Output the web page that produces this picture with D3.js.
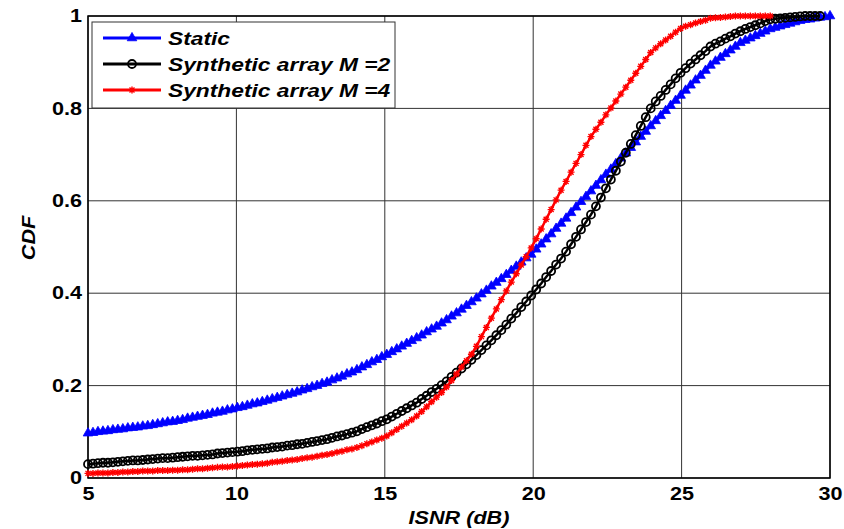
<!DOCTYPE html>
<html>
<head>
<meta charset="utf-8">
<script src="https://cdn.jsdelivr.net/npm/d3@7"></script>
<style>
  body { margin: 0; background: #fff; }
  text { font-family: "Liberation Sans", Arial, sans-serif; font-weight: bold; }
</style>
</head>
<body>
<svg width="844" height="529"></svg>
<script>
// ISNR sample grid (dB): 150 evenly spaced samples from 5 to 30
var isnr = d3.range(0, 150).map(function(i) { return 5 + i * 25 / 149; });

var xTicks = [5, 10, 15, 20, 25, 30];
var yTicks = [0, 0.2, 0.4, 0.6, 0.8, 1];
var seriesNames = ["Static", "Synthetic array M =2", "Synthetic array M =4"];

// CDF values, one per isnr sample
var staticCdf = [
  .097, .098, .100, .101, .102, .104, .105, .106, .108, .109,
  .110, .112, .113, .115, .117, .119, .121, .122, .124, .126,
  .129, .131, .133, .135, .137, .140, .142, .144, .147, .149,
  .152, .154, .157, .160, .162, .165, .168, .171, .174, .177,
  .180, .183, .186, .190, .193, .197, .200, .204, .207, .212,
  .216, .220, .225, .229, .234, .240, .245, .251, .256, .262,
  .267, .273, .279, .285, .291, .297, .303, .309, .316, .322,
  .328, .335, .342, .350, .357, .365, .373, .381, .389, .398,
  .406, .415, .423, .431, .440, .449, .458, .467, .476, .484,
  .495, .506, .517, .528, .540, .551, .562, .574, .586, .598,
  .609, .621, .633, .645, .657, .668, .680, .692, .703, .715,
  .727, .739, .750, .762, .773, .784, .795, .806, .817, .828,
  .839, .850, .861, .871, .882, .893, .902, .910, .918, .926,
  .934, .942, .947, .952, .957, .962, .967, .972, .975, .978,
  .981, .984, .987, .990, .992, .993, .995, .997, .998, 1.000
];

var synM2Cdf = [
  .030, .031, .032, .033, .033, .034, .035, .036, .037, .038,
  .038, .039, .040, .041, .042, .043, .043, .044, .045, .046,
  .047, .048, .048, .049, .050, .051, .053, .054, .055, .056,
  .057, .058, .060, .061, .062, .063, .064, .066, .067, .068,
  .070, .071, .073, .074, .076, .078, .080, .082, .084, .087,
  .090, .092, .095, .098, .101, .106, .110, .114, .118, .123,
  .127, .133, .139, .145, .151, .157, .163, .171, .178, .186,
  .193, .201, .209, .219, .228, .237, .246, .256, .266, .277,
  .287, .298, .309, .320, .332, .345, .357, .370, .382, .395,
  .408, .421, .435, .448, .462, .475, .490, .506, .522, .538,
  .554, .570, .588, .607, .627, .646, .665, .685, .704, .723,
  .742, .762, .781, .800, .815, .827, .840, .852, .865, .877,
  .887, .897, .906, .915, .924, .934, .940, .945, .951, .956,
  .962, .967, .972, .976, .980, .984, .989, .993, .994, .995,
  .996, .997, .998, .999, 1.000, 1.000, 1.000, 1.000
];

var synM4Cdf = [
  .010, .010, .011, .011, .011, .012, .012, .013, .013, .014,
  .014, .015, .015, .015, .016, .016, .016, .017, .017, .018,
  .018, .019, .020, .020, .021, .022, .023, .024, .024, .025,
  .026, .027, .028, .029, .030, .031, .032, .034, .035, .036,
  .038, .039, .040, .042, .044, .045, .047, .049, .051, .053,
  .056, .058, .061, .063, .066, .070, .074, .078, .082, .086,
  .091, .098, .105, .112, .119, .126, .134, .144, .154, .165,
  .175, .185, .197, .211, .225, .240, .254, .268, .285, .306,
  .326, .346, .366, .386, .405, .424, .442, .461, .479, .498,
  .518, .539, .560, .581, .602, .623, .642, .662, .681, .700,
  .720, .739, .755, .770, .786, .801, .816, .831, .846, .861,
  .876, .891, .906, .921, .931, .940, .948, .956, .965, .973,
  .978, .981, .985, .988, .991, .995, .996, .997, .998, .999,
  1.000, 1.000, 1.000, 1.000, 1.000, 1.000, 1.000, 1.000
];

var svg = d3.select("svg");
var margin = { left: 88, right: 14, top: 16, bottom: 51 };
var width = 844 - margin.left - margin.right,
    height = 529 - margin.top - margin.bottom;

var x = d3.scaleLinear().domain([5, 30]).range([0, width]);
var y = d3.scaleLinear().domain([0, 1]).range([height, 0]);

var g = svg.append("g").attr("transform", "translate(" + margin.left + "," + margin.top + ")");

// grid
g.selectAll(".vgrid").data(xTicks).enter().append("line")
  .attr("x1", function(d) { return x(d); }).attr("x2", function(d) { return x(d); })
  .attr("y1", 0).attr("y2", height)
  .attr("stroke", "#333").attr("stroke-width", 1);
g.selectAll(".hgrid").data(yTicks).enter().append("line")
  .attr("y1", function(d) { return y(d); }).attr("y2", function(d) { return y(d); })
  .attr("x1", 0).attr("x2", width)
  .attr("stroke", "#333").attr("stroke-width", 1);

// axes (text is stretched a bit wider, like the original export)
var xAxis = g.append("g").attr("transform", "translate(0," + height + ")")
  .call(d3.axisBottom(x).tickValues(xTicks).tickSize(0).tickPadding(9).tickFormat(d3.format("d")));
var yAxis = g.append("g")
  .call(d3.axisLeft(y).tickValues(yTicks).tickSize(0).tickPadding(5)
    .tickFormat(function(d) { return d === 0 || d === 1 ? d : d.toFixed(1); }));
[xAxis, yAxis].forEach(function(a) {
  a.select(".domain").remove();
  a.selectAll("text").attr("font-size", 18).attr("fill", "#000")
    .attr("transform", "scale(1.2,1)")
    .style("font-family", "'Liberation Sans', Arial, sans-serif").style("font-weight", "bold");
});

g.append("rect").attr("width", width).attr("height", height)
  .attr("fill", "none").attr("stroke", "#000").attr("stroke-width", 1.5);

// curves
var line = d3.line()
  .x(function(d) { return x(d[0]); })
  .y(function(d) { return y(d[1]); });

function pairs(vals) { return vals.map(function(v, i) { return [isnr[i], v]; }); }

var series = [
  { name: seriesNames[0], color: "#0000ff", data: pairs(staticCdf), marker: "tri" },
  { name: seriesNames[1], color: "#000000", data: pairs(synM2Cdf), marker: "circle" },
  { name: seriesNames[2], color: "#ff0000", data: pairs(synM4Cdf), marker: "star" }
];

var triPath = d3.symbol().type(d3.symbolTriangle).size(40)();

function drawMarker(sel, s) {
  if (s.marker === "tri") {
    sel.append("path").attr("d", triPath).attr("fill", s.color).attr("stroke", s.color).attr("stroke-width", 0.8);
  } else if (s.marker === "circle") {
    sel.append("circle").attr("r", 4).attr("fill", "none").attr("stroke", s.color).attr("stroke-width", 1.8);
  } else {
    sel.append("path").attr("d", "M-3.5,0H3.5M0,-3.5V3.5M-2.5,-2.5L2.5,2.5M-2.5,2.5L2.5,-2.5")
      .attr("stroke", s.color).attr("stroke-width", 1.4).attr("fill", "none");
  }
}

series.forEach(function(s) {
  g.append("path").datum(s.data).attr("d", line)
    .attr("fill", "none").attr("stroke", s.color).attr("stroke-width", 2.5);
  var m = g.append("g").selectAll("g").data(s.data).enter().append("g")
    .attr("transform", function(d) { return "translate(" + x(d[0]) + "," + y(d[1]) + ")"; });
  m.each(function() { drawMarker(d3.select(this), s); });
});

// legend
var lg = svg.append("g").attr("transform", "translate(92,22)");
lg.append("rect").attr("width", 303).attr("height", 86)
  .attr("fill", "#fff").attr("stroke", "#333").attr("stroke-width", 1);
series.forEach(function(s, i) {
  var row = lg.append("g").attr("transform", "translate(0," + (16 + i * 26) + ")");
  row.append("line").attr("x1", 11).attr("x2", 69).attr("stroke", s.color).attr("stroke-width", 3);
  drawMarker(row.append("g").attr("transform", "translate(40,0)"), s);
  row.append("text").attr("transform", "translate(76,7) scale(1.2,1)").attr("font-size", 19)
    .attr("font-style", "italic").text(s.name);
});

// axis labels
svg.append("text").attr("transform", "translate(" + (margin.left + width / 2) + ",524) scale(1.2,1)")
  .attr("text-anchor", "middle").attr("font-size", 18).attr("font-style", "italic").text("ISNR (dB)");
svg.append("text").attr("transform", "translate(35,238) rotate(-90) scale(1.2,1)")
  .attr("text-anchor", "middle").attr("font-size", 18).attr("font-style", "italic").text("CDF");
</script>
</body>
</html>
